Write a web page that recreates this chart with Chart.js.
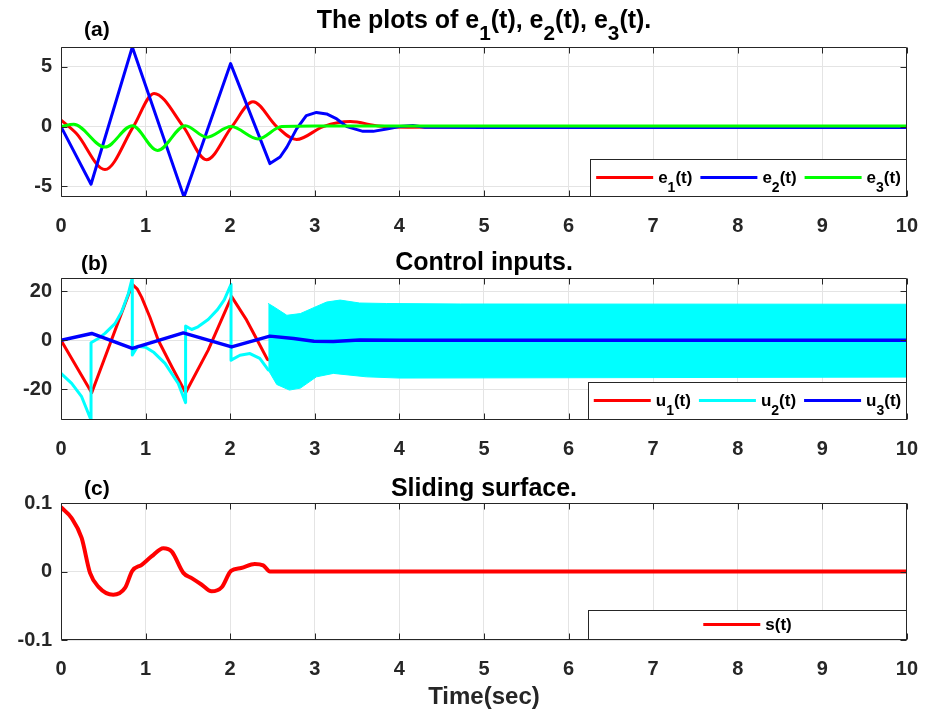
<!DOCTYPE html>
<html lang="en">
<head>
<meta charset="UTF-8">
<title>Error, control and sliding surface plots</title>
<script src="https://cdn.jsdelivr.net/npm/chart.js"></script>
<style>
  body { margin: 0; background: #fff; overflow: hidden; }
  #page { position: relative; width: 935px; height: 718px; background: #fff; }
  #page canvas { position: absolute; left: 0; }
  .ttl { position: absolute; left: 61px; width: 846px; text-align: center; font: bold 25px/25px 'Liberation Sans', Arial, sans-serif; color: #000; white-space: nowrap; }
  .tag { position: absolute; font: bold 21px/21px 'Liberation Sans', Arial, sans-serif; color: #000; }
  sub { font-size: 0.83em; vertical-align: -0.6em; line-height: 0; }
</style>
</head>
<body>
<div id="page">
  <canvas id="chartA" width="935" height="240" style="top:0"></canvas>
  <canvas id="chartB" width="935" height="222" style="top:240px"></canvas>
  <canvas id="chartC" width="935" height="256" style="top:462px"></canvas>

  <div class="ttl" style="top:7px">The plots of e<sub>1</sub>(t), e<sub>2</sub>(t), e<sub>3</sub>(t).</div>
  <div class="ttl" style="top:249px">Control inputs.</div>
  <div class="ttl" style="top:475px">Sliding surface.</div>
  <div class="tag" style="top:18px;left:84px">(a)</div>
  <div class="tag" style="top:252px;left:81px">(b)</div>
  <div class="tag" style="top:477px;left:84px">(c)</div>
</div>

<script>
// shared axis ticks
const xTicks = [0, 1, 2, 3, 4, 5, 6, 7, 8, 9, 10];
const eTicks = [-5, 0, 5];
const uTicks = [-20, 0, 20];
const sTicks = [-0.1, 0, 0.1];

// (a) errors (time in sec)
const e1T = [0, 0.185, 0.52, 0.855, 1.10, 1.446, 1.72, 2.02, 2.27, 2.55, 2.785, 3.10, 3.42, 3.75, 4.1, 5, 10];
const e1V = [0.55, -0.6, -3.6, 0, 2.78, 0, -2.78, 0, 2.08, 0, -1.08, 0, 0.42, 0.05, -0.05, 0, 0];
const e2T = [0, 0.355, 0.843, 1.454, 2.005, 2.47, 2.59, 2.67, 2.785, 2.90, 3.02, 3.14, 3.26, 3.38, 3.57, 3.69, 3.85, 4.0, 4.16, 4.3, 5, 10];
const e2V = [0, -4.83, 6.67, -5.9, 5.28, -3.1, -2.55, -1.72, -0.19, 0.92, 1.19, 1.06, 0.64, 0, -0.4, -0.4, -0.2, 0, 0.1, -0.05, -0.08, -0.08];
const e3T = [0, 0.15, 0.52, 0.843, 1.14, 1.47, 1.72, 2.01, 2.33, 2.61, 3.0, 10];
const e3V = [0, 0.2, -1.72, 0.08, -2.0, 0.08, -0.89, 0, -1.03, 0, 0.05, 0.05];

// (b) control inputs
const u1T = [0, 0.363, 0.843, 0.9, 0.954, 1.05, 1.15, 1.31, 1.473, 1.74, 2.017, 2.195, 2.33, 2.44, 2.55, 2.65, 2.75, 3.0, 10];
const u1V = [0, -21.4, 22.8, 21, 17.5, 9.5, 0, -10.8, -21.4, -4, 17.8, 8.2, -0.6, -7.8, -8.5, -8.5, -3.8, 0, 0];
const u2T = [0, 0.126, 0.244, 0.355, 0.355, 0.44, 0.52, 0.638, 0.717, 0.796, 0.843, 0.843, 0.906, 1.0, 1.1, 1.23, 1.386, 1.473, 1.473, 1.545, 1.62, 1.74, 1.85, 1.93, 2.01, 2.01, 2.116, 2.234, 2.35, 2.45];
const u2V = [-13.5, -17.6, -23, -32.5, -1.0, 0.7, 2.8, 6.8, 11.6, 19.0, 25.4, -6.0, -2.4, -2.8, -5, -9.4, -17.6, -25.4, 5.8, 4.4, 5.5, 8.5, 12.5, 16.5, 22.8, -8.1, -6.1, -5.4, -7.4, -12.1];
// chattering band of u2 after t = 2.45 (upper / lower envelope)
const u2HiT = [2.45, 2.5, 2.67, 2.83, 3.0, 3.14, 3.30, 3.53, 3.85, 4.72, 10];
const u2HiV = [15, 14, 10.2, 10.9, 13.5, 15.6, 16.4, 15.2, 15.0, 14.8, 14.7];
const u2LoT = [2.45, 2.55, 2.7, 2.83, 3.02, 3.22, 3.61, 4.0, 10];
const u2LoV = [-12.1, -18, -20.3, -19.5, -14.9, -13.5, -14.9, -15.4, -15.0];
const u3T = [0, 0.363, 0.843, 1.446, 2.017, 2.47, 2.75, 2.99, 3.22, 3.53, 4.0, 10];
const u3V = [0, 2.8, -3.3, 3.0, -2.7, 1.7, 0.7, -0.4, -0.45, 0.15, 0, 0];

// (c) sliding surface
const sT = [0, 0.126, 0.244, 0.343, 0.44, 0.618, 0.757, 0.843, 0.954, 1.07, 1.21, 1.31, 1.446, 1.545, 1.66, 1.78, 1.90, 2.01, 2.13, 2.29, 2.39, 2.47, 3, 10];
const sV = [0.0938, 0.078, 0.049, -0.002, -0.022, -0.034, -0.024, 0.001, 0.0098, 0.022, 0.034, 0.029, -0.002, -0.0097, -0.019, -0.029, -0.023, 0.001, 0.005, 0.011, 0.009, 0, 0, 0];

const FONT = "'Liberation Sans', Arial, Helvetica, sans-serif";

function pts(ts, vs) {
  return ts.map((t, i) => ({x: t, y: vs[i]}));
}

function line(label, ts, vs, color, extra) {
  return Object.assign({
    label: label,
    data: pts(ts, vs),
    borderColor: color,
    backgroundColor: color,
    borderWidth: 3,
    pointRadius: 0,
    fill: false,
    tension: 0,
    borderJoinStyle: 'round',
    borderCapStyle: 'round'
  }, extra || {});
}

// "e1(t)" -> ["e", "1", "(t)"]
function splitLabel(s) {
  const m = /^([a-z]+)(\d?)(\(t\))$/.exec(s);
  return m ? m.slice(1) : [s, '', ''];
}

// MATLAB-like box, inner ticks and legend inside the plot
const frame = {
  id: 'frame',
  afterDatasetsDraw(chart, args, opts) {
    const ctx = chart.ctx, a = chart.chartArea, xs = chart.scales.x, ys = chart.scales.y;
    const L = Math.round(a.left) + 0.5, R = Math.round(a.right) - 0.5;
    const T = Math.round(a.top) + 0.5, B = Math.round(a.bottom) - 0.5;
    ctx.save();
    ctx.strokeStyle = '#262626';
    ctx.lineWidth = 1;
    ctx.beginPath();
    xs.ticks.forEach(t => {
      const p = Math.round(xs.getPixelForValue(t.value)) + 0.5;
      ctx.moveTo(p, T); ctx.lineTo(p, T + 6);
      ctx.moveTo(p, B); ctx.lineTo(p, B - 6);
    });
    ys.ticks.forEach(t => {
      const p = Math.round(ys.getPixelForValue(t.value)) + 0.5;
      ctx.moveTo(L, p); ctx.lineTo(L + 6, p);
      ctx.moveTo(R, p); ctx.lineTo(R - 6, p);
    });
    ctx.rect(L, T, R - L, B - T);
    ctx.stroke();

    // legend
    const lw = opts.width, lh = opts.height;
    const bx = R - lw, by = B - lh;
    ctx.fillStyle = '#fff';
    ctx.fillRect(bx, by, lw, lh);
    ctx.strokeRect(bx, by, lw, lh);
    const main = 'bold 17px ' + FONT, sub = 'bold 14px ' + FONT;
    const items = opts.items.map(i => {
      const ds = chart.data.datasets[i];
      const parts = splitLabel(ds.label);
      ctx.font = main;
      let w = ctx.measureText(parts[0]).width + ctx.measureText(parts[2]).width;
      ctx.font = sub;
      w += ctx.measureText(parts[1]).width;
      return {ds: ds, parts: parts, w: w};
    });
    const total = items.reduce((s, it) => s + 62 + it.w, 0) + 8 * (items.length - 1);
    let cx = bx + (lw - total) / 2;
    const cy = by + lh / 2;
    ctx.textAlign = 'left';
    ctx.textBaseline = 'alphabetic';
    items.forEach(it => {
      ctx.strokeStyle = it.ds.borderColor;
      ctx.lineWidth = 3;
      ctx.beginPath();
      ctx.moveTo(cx, cy - 0.5);
      ctx.lineTo(cx + 57, cy - 0.5);
      ctx.stroke();
      let tx = cx + 62;
      ctx.fillStyle = '#000';
      ctx.font = main;
      ctx.fillText(it.parts[0], tx, cy + 4.5);
      tx += ctx.measureText(it.parts[0]).width;
      ctx.font = sub;
      ctx.fillText(it.parts[1], tx, cy + 13.5);
      tx += ctx.measureText(it.parts[1]).width;
      ctx.font = main;
      ctx.fillText(it.parts[2], tx, cy + 4.5);
      cx += 62 + it.w + 8;
    });
    ctx.restore();
  }
};

function makeChart(id, datasets, o) {
  const tickFont = {family: FONT, size: 20, weight: 'bold'};
  return new Chart(document.getElementById(id), {
    type: 'line',
    data: {datasets: datasets},
    options: {
      responsive: false,
      animation: false,
      events: [],
      layout: {padding: {top: o.top, right: 28, left: 0, bottom: 0}},
      plugins: {
        legend: {display: false},
        tooltip: {enabled: false},
        frame: o.legend
      },
      scales: {
        x: {
          type: 'linear',
          min: 0,
          max: 10,
          afterBuildTicks: s => { s.ticks = xTicks.map(v => ({value: v})); },
          afterFit: s => { s.height = o.xh; },
          grid: {color: '#e4e4e4', drawTicks: false},
          border: {display: false},
          ticks: {padding: 17, color: '#262626', font: tickFont, maxRotation: 0, autoSkip: false, callback: v => String(v)},
          title: o.xTitle || {display: false}
        },
        y: {
          type: 'linear',
          min: o.yMin,
          max: o.yMax,
          afterBuildTicks: s => { s.ticks = o.yTicks.map(v => ({value: v})); },
          afterFit: s => { s.width = 61; },
          grid: {color: '#e4e4e4', drawTicks: false},
          border: {display: false},
          ticks: {padding: 9, color: '#262626', font: tickFont, callback: v => String(v)}
        }
      }
    },
    plugins: [frame]
  });
}

makeChart('chartA', [
  line('e1(t)', e1T, e1V, '#ff0000', {cubicInterpolationMode: 'monotone', order: 2}),
  line('e2(t)', e2T, e2V, '#0000ff', {order: 1}),
  line('e3(t)', e3T, e3V, '#00ff00', {cubicInterpolationMode: 'monotone', order: 0})
], {top: 47, xh: 43, yMin: -5.9, yMax: 6.67, yTicks: eTicks,
    legend: {items: [0, 1, 2], width: 316, height: 37}});

makeChart('chartB', [
  line('u1(t)', u1T, u1V, '#ff0000', {order: 3}),
  line('u2(t)', u2T, u2V, '#00ffff', {order: 2}),
  line('u2 upper', u2HiT, u2HiV, '#00ffff', {order: 2, borderWidth: 1, fill: '+1'}),
  line('u2 lower', u2LoT, u2LoV, '#00ffff', {order: 2, borderWidth: 1}),
  line('u3(t)', u3T, u3V, '#0000ff', {order: 0, borderWidth: 3.5})
], {top: 38, xh: 42, yMin: -32.5, yMax: 25.4, yTicks: uTicks,
    legend: {items: [0, 1, 4], width: 318, height: 37}});

makeChart('chartC', [
  line('s(t)', sT, sV, '#ff0000', {cubicInterpolationMode: 'monotone', borderWidth: 4})
], {top: 41, xh: 78, yMin: -0.1, yMax: 0.1, yTicks: sTicks,
    xTitle: {display: true, text: 'Time(sec)', color: '#262626', font: {family: FONT, size: 24, weight: 'bold'}, padding: {top: 0, bottom: 6}},
    legend: {items: [0], width: 318, height: 29}});
</script>
</body>
</html>
